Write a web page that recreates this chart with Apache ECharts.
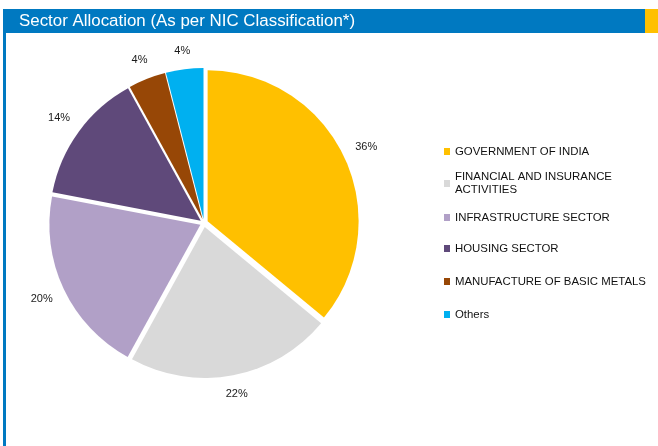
<!DOCTYPE html>
<html><head><meta charset="utf-8">
<script src="https://cdn.jsdelivr.net/npm/echarts@6/dist/echarts.min.js"></script>
<style>html,body{margin:0;padding:0;background:#fff}#c{width:658px;height:446px}</style>
</head><body><div id="c"></div>
<script>
// ---- data ----
const categories = ['GOVERNMENT OF INDIA', 'FINANCIAL AND INSURANCE ACTIVITIES', 'INFRASTRUCTURE SECTOR', 'HOUSING SECTOR', 'MANUFACTURE OF BASIC METALS', 'Others'];
const legendLabels = ['GOVERNMENT OF INDIA', 'FINANCIAL AND INSURANCE\nACTIVITIES', 'INFRASTRUCTURE SECTOR', 'HOUSING SECTOR', 'MANUFACTURE OF BASIC METALS', 'Others'];
const shares = [36, 22, 20, 14, 4, 4];
const titleText = 'Sector Allocation (As per NIC Classification*)';

// ---- styles / layout ----
const sliceColors = ['#FFC000', '#D9D9D9', '#B1A0C7', '#5F497A', '#974706', '#00B0F0'];
const legendIconCenters = [151.5, 183.5, 217.5, 248.5, 281.5, 314.5];
const FONT = '"Liberation Sans", Arial, sans-serif';
const LINE_H = 13;
const CX = 204, CY = 223, R = 151, LABEL_R = 164;

const chart = echarts.init(document.getElementById('c'), null, {renderer: 'canvas'});

const legends = categories.map((name, i) => {
  const lines = legendLabels[i].split('\n').length;
  const extra = (lines - 1) * LINE_H;
  return {
    data: [name],
    left: 444,
    top: legendIconCenters[i] - 3.5 - (LINE_H / 2 - 3.5) - extra,
    padding: 0,
    orient: 'vertical',
    icon: 'rect',
    itemWidth: 6,
    itemHeight: 7,
    selectedMode: false,
    formatter: () => legendLabels[i],
    textStyle: {
      fontFamily: FONT, fontSize: 11.4, color: '#111', lineHeight: LINE_H,
      padding: lines > 1 ? [extra, 0, 0, 0] : 0
    }
  };
});

const pieData = categories.map((name, i) => ({
  name, value: shares[i], selected: true, itemStyle: {color: sliceColors[i]}
}));
const labelData = categories.map((name, i) => ({name, value: shares[i]}));

chart.setOption({
  animation: false,
  backgroundColor: '#ffffff',
  graphic: [
    {type: 'rect', shape: {x: 3, y: 9, width: 642, height: 24}, style: {fill: '#0079C1'}, silent: true},
    {type: 'rect', shape: {x: 645, y: 9, width: 13, height: 24}, style: {fill: '#FFC000'}, silent: true},
    {type: 'rect', shape: {x: 3, y: 33, width: 3, height: 413}, style: {fill: '#0079C1'}, silent: true}
  ],
  title: {
    text: titleText,
    left: 19, top: 11, padding: 0,
    textStyle: {fontFamily: FONT, fontSize: 16.9, fontWeight: 'normal', color: '#ffffff', lineHeight: 20}
  },
  legend: legends,
  series: [
    {
      type: 'pie',
      center: [CX, CY],
      radius: R,
      startAngle: 90,
      clockwise: true,
      selectedMode: 'multiple',
      selectedOffset: 4,
      avoidLabelOverlap: false,
      label: {show: false},
      labelLine: {show: false},
      itemStyle: {borderWidth: 0},
      emphasis: {disabled: true},
      select: {disabled: false, itemStyle: {borderWidth: 0}},
      data: pieData
    },
    {
      type: 'pie',
      center: [CX, CY],
      radius: [LABEL_R - 10, LABEL_R + 10],
      startAngle: 90,
      clockwise: true,
      silent: true,
      avoidLabelOverlap: false,
      itemStyle: {color: 'rgba(0,0,0,0)', borderWidth: 0},
      emphasis: {disabled: true},
      labelLine: {show: false},
      label: {
        show: true, position: 'inside', formatter: '{c}%',
        fontFamily: FONT, fontSize: 11, color: '#1a1a1a', lineHeight: 11
      },
      // push each label outward so its box edge sits on the label ring (outside-end style)
      labelLayout: function (p) {
        const r = p.labelRect;
        const lx = r.x + r.width / 2, ly = r.y + r.height / 2;
        let ux = lx - CX, uy = ly - CY;
        const d = Math.hypot(ux, uy) || 1;
        ux /= d; uy /= d;
        const s = (r.width / 2) * Math.abs(ux) + (r.height / 2) * Math.abs(uy);
        return {dx: ux * s, dy: uy * s};
      },
      data: labelData
    }
  ]
});
</script>
</body></html>
